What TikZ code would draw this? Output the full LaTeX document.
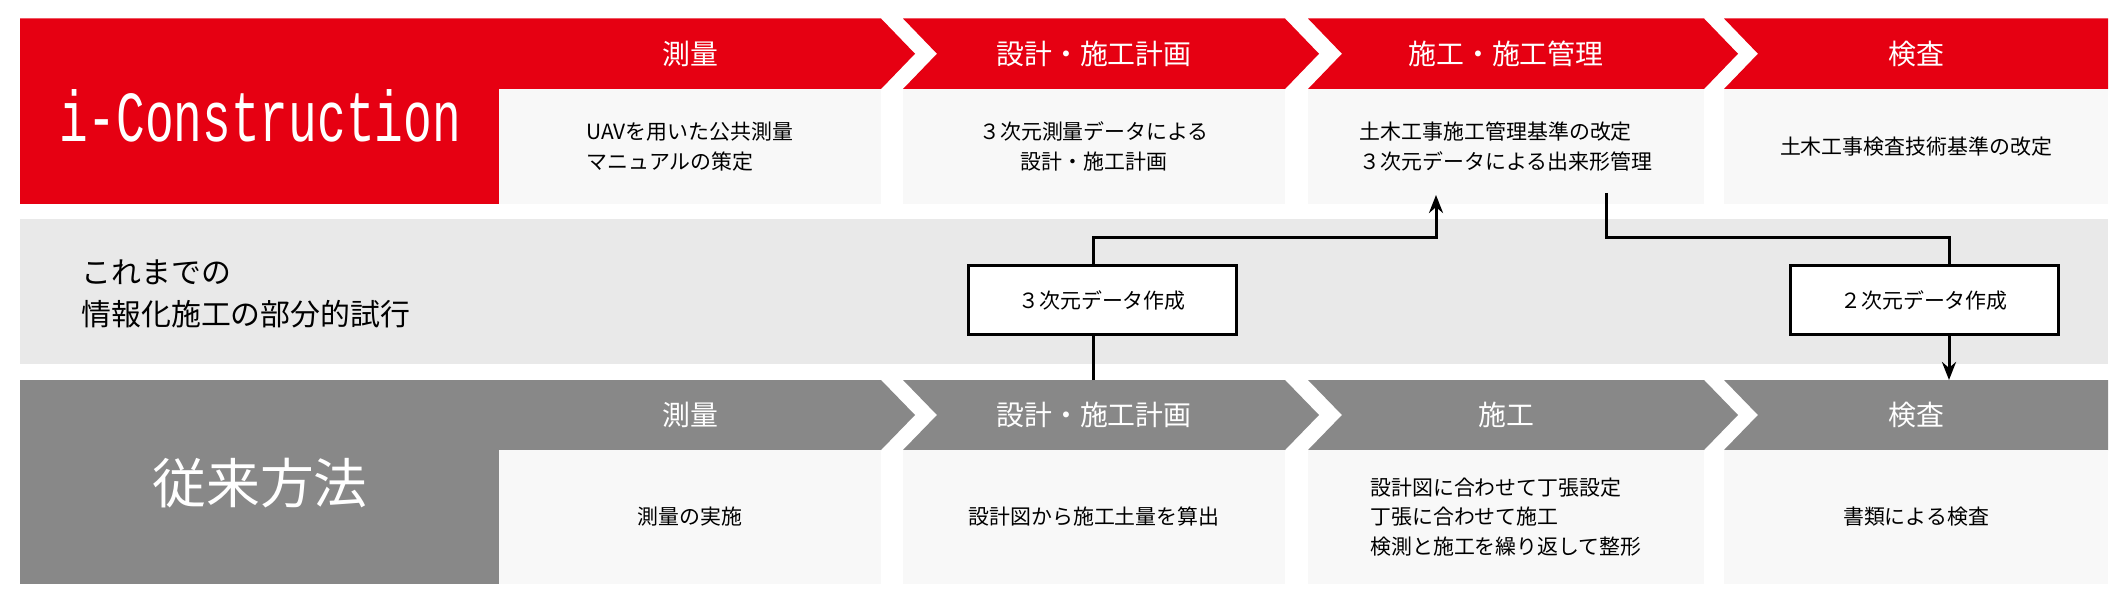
\documentclass[tikz,border=0pt]{standalone}
\usepackage{fontspec}
\setmainfont{Noto Sans CJK JP}
\newfontfamily\monofont{Liberation Mono}
\usetikzlibrary{arrows.meta}
\definecolor{ired}{HTML}{E60012}
\definecolor{oldgray}{HTML}{888888}
\definecolor{bodyfill}{HTML}{F8F8F8}
\definecolor{bandfill}{HTML}{E9E9E9}
\begin{document}
\begin{tikzpicture}[x=1bp,y=-1bp,
    head_text/.style ={text=white, font=\fontsize{28}{30}\selectfont},
    body_box/.style ={rectangle, draw=none, fill=bodyfill, inner sep=0pt, minimum height=115bp},
    body_text/.style ={font=\fontsize{21}{30}\selectfont, align=left},
    data_box/.style ={rectangle, draw=black, line width=3bp, fill=white, minimum width=268bp,
      minimum height=68bp, font=\fontsize{21}{24}\selectfont},
    line/.style ={draw, line width=3bp},
    arr/.style ={line, -{Stealth[length=18bp,width=14bp]}}]
  \useasboundingbox (0,0) rectangle (2118,605);
  % background band
  \fill[bandfill] (20,219) rectangle (2108,364);
  % header chevrons, top row and bottom row
  \foreach \col/\ya/\yb in {ired/18.5/89, oldgray/380/450} {
    \fill[\col] (20,\ya) -- (881,\ya) -- (915,{(\ya+\yb)/2}) -- (881,\yb) -- (20,\yb) -- cycle;
    \fill[\col] (903,\ya) -- (1285,\ya) -- (1319,{(\ya+\yb)/2}) -- (1285,\yb) -- (903,\yb)
      -- (937,{(\ya+\yb)/2}) -- cycle;
    \fill[\col] (1308,\ya) -- (1704,\ya) -- (1738,{(\ya+\yb)/2}) -- (1704,\yb) -- (1308,\yb)
      -- (1342,{(\ya+\yb)/2}) -- cycle;
    \fill[\col] (1724,\ya) -- (2108,\ya) -- (2108,\yb) -- (1724,\yb) -- (1758,{(\ya+\yb)/2}) -- cycle;
  }
  \fill[ired] (20,89) rectangle (499,204);
  \fill[oldgray] (20,450) rectangle (499,584);
  % row titles
  \node[text=white, font=\monofont\fontsize{48}{50}\selectfont] (ititle) at (260,116)
    {\scalebox{1}[1.5]{i-Construction}};
  \node[text=white, font=\fontsize{54}{56}\selectfont] (oldtitle) at (260,483) {従来方法};
  \node[font=\fontsize{30}{42}\selectfont, align=left, anchor=west] (trial) at (78,294)
    {これまでの\\情報化施工の部分的試行};
  % top row
  \node[head_text] (ih1) at (690,54) {測量};
  \node[head_text] (ih2) at (1094,54) {設計・施工計画};
  \node[head_text] (ih3) at (1506,54) {施工・施工管理};
  \node[head_text] (ih4) at (1916,54) {検査};
  \node[body_box, minimum width=382bp] (ib1) at (690,146.5) {};
  \node[body_box, minimum width=382bp] (ib2) at (1094,146.5) {};
  \node[body_box, minimum width=396bp] (ib3) at (1506,146.5) {};
  \node[body_box, minimum width=384bp] (ib4) at (1916,146.5) {};
  \node[body_text] at (ib1) {UAVを用いた公共測量\\マニュアルの策定};
  \node[body_text, align=center] at (ib2) {３次元測量データによる\\設計・施工計画};
  \node[body_text] at (ib3) {土木工事施工管理基準の改定\\３次元データによる出来形管理};
  \node[body_text] at (ib4) {土木工事検査技術基準の改定};
  % bottom row
  \node[head_text] (oh1) at (690,415) {測量};
  \node[head_text] (oh2) at (1094,415) {設計・施工計画};
  \node[head_text] (oh3) at (1506,415) {施工};
  \node[head_text] (oh4) at (1916,415) {検査};
  \node[body_box, minimum width=382bp, minimum height=134bp] (ob1) at (690,517) {};
  \node[body_box, minimum width=382bp, minimum height=134bp] (ob2) at (1094,517) {};
  \node[body_box, minimum width=396bp, minimum height=134bp] (ob3) at (1506,517) {};
  \node[body_box, minimum width=384bp, minimum height=134bp] (ob4) at (1916,517) {};
  \node[body_text] at (ob1) {測量の実施};
  \node[body_text] at (ob2) {設計図から施工土量を算出};
  \node[body_text] at (ob3) {設計図に合わせて丁張設定\\丁張に合わせて施工\\検測と施工を繰り返して整形};
  \node[body_text] at (ob4) {書類による検査};
  % data boxes
  \node[data_box] (d3) at (1102,300) {３次元データ作成};
  \node[data_box] (d2) at (1924,300) {２次元データ作成};
  % connectors
  \coordinate (p1) at (1093,238);
  \coordinate (t1) at (1436,195);
  \coordinate (s2) at (1606,193);
  \coordinate (p2) at (1949,238);
  \coordinate (base) at (0,380);
  \path[line] (p1 |- base) -- (d3.south -| p1);
  \path[arr] (d3.north -| p1) -- (p1) -| (t1);
  \path[line] (s2) |- (p2) -- (d2.north -| p2);
  \path[arr] (d2.south -| p2) -- (p2 |- base);
\end{tikzpicture}
\end{document}
